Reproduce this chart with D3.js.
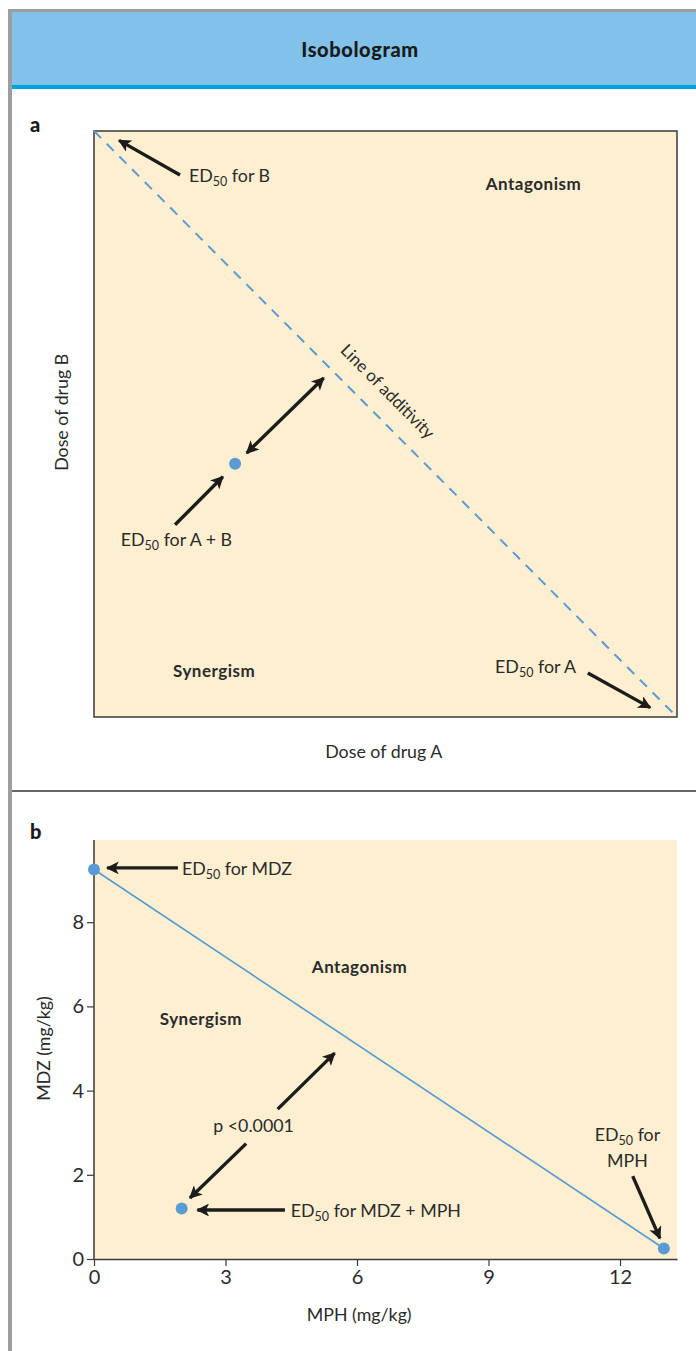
<!DOCTYPE html>
<html>
<head>
<meta charset="utf-8">
<script src="https://cdn.jsdelivr.net/npm/d3@7"></script>
<style>
  html, body { margin: 0; padding: 0; background: #fff; }
  svg { display: block; }
  text { font-family: Lato, "Open Sans", sans-serif; fill: #2b2b2b; }
  .tick text { font-size: 20px !important; }
</style>
</head>
<body>
<div id="chart"></div>
<script>
// ---------------- DATA ----------------
// Panel a (schematic, normalised dose units)
const additivityLine = [[0, 1], [1, 0]];          // ED50 for B -> ED50 for A
const comboPointA = [[0.242, 0.432]];              // ED50 for A + B

// Panel b
const xTicksB = [0, 3, 6, 9, 12];
const yTicksB = [0, 2, 4, 6, 8];
const mphValues = [0, 13];                         // MPH (mg/kg)
const mdzValues = [9.25, 0.25];                    // MDZ (mg/kg)
const comboMPH = [2];
const comboMDZ = [1.2];

// ---------------- LAYOUT ----------------
const W = 696, H = 1351;
const FS = 17.8;
const colors = {
  frame: "#9d9ea0", band: "#82c1ea", bandLine: "#00a3df",
  plotBg: "#feefd1", ink: "#1c1c1c", blue: "#5b9bd5", text: "#2b2b2b"
};

const svg = d3.select("#chart").append("svg")
  .attr("width", W).attr("height", H);

svg.append("rect").attr("width", W).attr("height", H).attr("fill", "#fff");

// frame
svg.append("rect").attr("x", 8).attr("y", 9).attr("width", W - 8).attr("height", 3).attr("fill", colors.frame);
svg.append("rect").attr("x", 8).attr("y", 9).attr("width", 4).attr("height", H - 9).attr("fill", colors.frame);
svg.append("rect").attr("x", 12).attr("y", 12).attr("width", W - 12).attr("height", 73).attr("fill", colors.band);
svg.append("rect").attr("x", 12).attr("y", 85).attr("width", W - 12).attr("height", 4).attr("fill", colors.bandLine);
svg.append("text").attr("x", 360).attr("y", 57).attr("text-anchor", "middle")
  .style("font-size", "20px").attr("font-weight", 900).attr("letter-spacing", 0.6)
  .style("fill", "#1a1a1a").text("Isobologram");

// divider between panels
svg.append("line").attr("x1", 12).attr("x2", W).attr("y1", 791).attr("y2", 791)
  .attr("stroke", "#333").attr("stroke-width", 1.5);

// arrow markers
const defs = svg.append("defs");
function marker(id, orient) {
  defs.append("marker").attr("id", id)
    .attr("viewBox", "0 0 10 10").attr("refX", 9).attr("refY", 5)
    .attr("markerWidth", 4.4).attr("markerHeight", 3.8)
    .attr("markerUnits", "strokeWidth")
    .attr("orient", orient)
    .append("path").attr("d", "M0,0 L10,5 L0,10 L2.5,5 Z").attr("fill", colors.ink);
}
marker("ah", "auto");
marker("ahs", "auto-start-reverse");

function arrow(g, x, y, from, to, both) {
  const a = g.append("line")
    .attr("x1", x(from[0])).attr("y1", y(from[1]))
    .attr("x2", x(to[0])).attr("y2", y(to[1]))
    .attr("stroke", colors.ink).attr("stroke-width", 3.4)
    .attr("marker-end", "url(#ah)");
  if (both) a.attr("marker-start", "url(#ahs)");
}

function edLabel(g, x, y, pos, suffix, anchor) {
  const t = g.append("text").attr("x", x(pos[0])).attr("y", y(pos[1]))
    .style("font-size", FS + "px").attr("text-anchor", anchor || "start");
  t.append("tspan").text("ED");
  t.append("tspan").style("font-size", "12.5px").attr("dy", 4).text("50");
  t.append("tspan").attr("dy", -4).text(suffix);
  return t;
}

// ---------------- PANEL A ----------------
const xA = d3.scaleLinear().domain([0, 1]).range([94, 677]);
const yA = d3.scaleLinear().domain([0, 1]).range([717, 131]);
const gA = svg.append("g");

svg.append("text").attr("x", 30).attr("y", 132).style("font-size", "20px")
  .attr("font-weight", 900).style("fill", "#1a1a1a").text("a");

gA.append("rect").attr("x", xA(0)).attr("y", yA(1))
  .attr("width", xA(1) - xA(0)).attr("height", yA(0) - yA(1))
  .attr("fill", colors.plotBg).attr("stroke", "#3a3a3a").attr("stroke-width", 1.5);

gA.append("path").datum(additivityLine)
  .attr("d", d3.line().x(d => xA(d[0])).y(d => yA(d[1])))
  .attr("fill", "none").attr("stroke", colors.blue).attr("stroke-width", 2)
  .attr("stroke-dasharray", "10,8");

gA.selectAll("circle").data(comboPointA).join("circle")
  .attr("cx", d => xA(d[0])).attr("cy", d => yA(d[1])).attr("r", 6)
  .attr("fill", colors.blue);

arrow(gA, xA, yA, [0.1475, 0.925], [0.043, 0.984]);
arrow(gA, xA, yA, [0.139, 0.328], [0.221, 0.410]);
arrow(gA, xA, yA, [0.262, 0.4505], [0.394, 0.5785], true);
arrow(gA, xA, yA, [0.847, 0.075], [0.954, 0.016]);

edLabel(gA, xA, yA, [0.163, 0.913], " for B");
edLabel(gA, xA, yA, [0.046, 0.292], " for A + B");
edLabel(gA, xA, yA, [0.688, 0.075], " for A");

gA.append("text").attr("x", xA(0.672)).attr("y", yA(0.899)).style("font-size", "17px")
  .attr("font-weight", "bold").attr("letter-spacing", 0.5).text("Antagonism");
gA.append("text").attr("x", xA(0.1355)).attr("y", yA(0.068)).style("font-size", "17px")
  .attr("font-weight", "bold").attr("letter-spacing", 0.5).text("Synergism");

gA.append("text")
  .attr("transform", `translate(${xA(0.421)},${yA(0.624)}) rotate(45.2)`)
  .style("font-size", "17px").text("Line of additivity");

gA.append("text").attr("x", xA(0.497)).attr("y", 758).attr("text-anchor", "middle")
  .style("font-size", FS + "px").text("Dose of drug A");
gA.append("text")
  .attr("transform", `translate(68,${yA(0.52)}) rotate(-90)`)
  .attr("text-anchor", "middle").style("font-size", FS + "px").text("Dose of drug B");

// ---------------- PANEL B ----------------
const xB = d3.scaleLinear().domain([0, 13.3]).range([94, 677]);
const yB = d3.scaleLinear().domain([0, 10]).range([1259, 838]);
const gB = svg.append("g");

svg.append("text").attr("x", 30).attr("y", 839).style("font-size", "20px")
  .attr("font-weight", 900).style("fill", "#1a1a1a").text("b");

gB.append("rect").attr("x", xB(0)).attr("y", 840)
  .attr("width", xB(13.3) - xB(0)).attr("height", yB(0) - 840)
  .attr("fill", colors.plotBg);

const xAxis = gB.append("g").attr("transform", `translate(0,${yB(0)})`)
  .call(d3.axisBottom(xB).tickValues(xTicksB).tickSizeInner(7).tickSizeOuter(0).tickPadding(4));
const yAxis = gB.append("g").attr("transform", `translate(${xB(0)},0)`)
  .call(d3.axisLeft(yB).tickValues(yTicksB).tickSizeInner(7).tickSizeOuter(0).tickPadding(3));
yAxis.select(".domain").attr("d", `M0,${yB(0)}V840`);
[xAxis, yAxis].forEach(a => {
  a.attr("font-size", 20).attr("font-family", "Lato, sans-serif");
  a.select(".domain").attr("stroke", "#3a3a3a").attr("stroke-width", 1.5);
  a.selectAll(".tick line").attr("stroke", "#3a3a3a").attr("stroke-width", 1.2);
  a.selectAll(".tick text").attr("font-size", 20).style("fill", colors.text);
});

const lineData = mphValues.map((v, i) => [v, mdzValues[i]]);
gB.append("path").datum(lineData)
  .attr("d", d3.line().x(d => xB(d[0])).y(d => yB(d[1])))
  .attr("fill", "none").attr("stroke", colors.blue).attr("stroke-width", 1.7);

gB.selectAll("circle.ed").data(lineData).join("circle").attr("class", "ed")
  .attr("cx", d => xB(d[0])).attr("cy", d => yB(d[1])).attr("r", 6)
  .attr("fill", colors.blue);
gB.selectAll("circle.combo").data(comboMPH.map((v, i) => [v, comboMDZ[i]])).join("circle")
  .attr("class", "combo")
  .attr("cx", d => xB(d[0])).attr("cy", d => yB(d[1])).attr("r", 6)
  .attr("fill", colors.blue);

arrow(gB, xB, yB, [1.915, 9.29], [0.30, 9.29]);
arrow(gB, xB, yB, [4.19, 3.56], [5.49, 4.89]);
arrow(gB, xB, yB, [3.47, 2.74], [2.19, 1.45]);
arrow(gB, xB, yB, [4.356, 1.164], [2.36, 1.164]);
arrow(gB, xB, yB, [12.29, 1.97], [12.91, 0.49]);

edLabel(gB, xB, yB, [2.006, 9.12], " for MDZ");
edLabel(gB, xB, yB, [4.49, 1.0], " for MDZ + MPH");
edLabel(gB, xB, yB, [12.17, 2.80], " for", "middle");
gB.append("text").attr("x", xB(12.17)).attr("y", yB(2.19)).attr("text-anchor", "middle")
  .style("font-size", FS + "px").text("MPH");
gB.append("text").attr("x", xB(3.64)).attr("y", yB(3.02)).attr("text-anchor", "middle")
  .style("font-size", FS + "px").text("p <0.0001");

gB.append("text").attr("x", xB(4.97)).attr("y", yB(6.79)).style("font-size", "17px")
  .attr("font-weight", "bold").attr("letter-spacing", 0.5).text("Antagonism");
gB.append("text").attr("x", xB(1.5)).attr("y", yB(5.56)).style("font-size", "17px")
  .attr("font-weight", "bold").attr("letter-spacing", 0.5).text("Synergism");

gB.append("text").attr("x", xB(6.05)).attr("y", 1321).attr("text-anchor", "middle")
  .style("font-size", FS + "px").text("MPH (mg/kg)");
gB.append("text").attr("transform", `translate(50,${yB(5)}) rotate(-90)`)
  .attr("text-anchor", "middle").style("font-size", FS + "px").text("MDZ (mg/kg)");
</script>
</body>
</html>
